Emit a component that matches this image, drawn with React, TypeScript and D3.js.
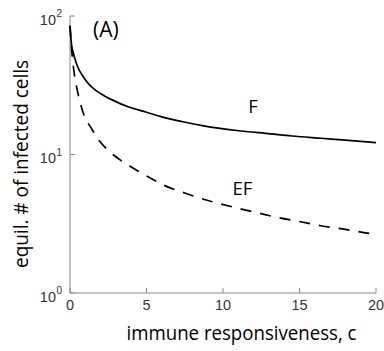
import React from "react";
import * as d3 from "d3";

const fC = [0, 0.1, 0.2, 0.35, 0.5, 0.79, 1.2, 1.66, 2.2, 2.75, 3.8, 5, 6.0, 7.3, 8.74, 10.9, 13.1, 14.5, 16.4, 18, 20];
const fV = [85, 62, 55, 48, 43, 37.5, 32.5, 29.2, 26.7, 24.8, 22.1, 20.2, 18.7, 17.3, 16.1, 14.9, 14.1, 13.6, 13.1, 12.7, 12.2];

const efC = [0, 0.1, 0.2, 0.3, 0.45, 0.7, 1.0, 1.33, 1.88, 2.42, 3.3, 3.95, 4.72, 5.37, 6.14, 7.54, 9.29, 10.7, 12.1, 13.5, 15.07, 16.4, 17.8, 19.3, 20];
const efV = [85, 58, 45, 37, 30, 23, 18.2, 15.9, 12.7, 10.9, 9.1, 8.2, 7.3, 6.65, 6.0, 5.25, 4.56, 4.16, 3.83, 3.52, 3.27, 3.06, 2.9, 2.72, 2.65];

const xTicks = [0, 5, 10, 15, 20];
const yTicks = [1, 10, 100];
const yTickExp = ["0", "1", "2"];

export default function App() {
  const x = d3.scaleLinear().domain([0, 20]).range([70, 376]);
  const y = d3.scaleLog().domain([1, 100]).range([293, 16]);
  const line = d3
    .line<[number, number]>()
    .x((d) => x(d[0]))
    .y((d) => y(d[1]))
    .curve(d3.curveMonotoneX);
  const fData = fC.map((c, i) => [c, fV[i]] as [number, number]);
  const efData = efC.map((c, i) => [c, efV[i]] as [number, number]);
  const axisCol = "#8a8a8a";
  const tickFont = "'Liberation Sans', Arial, sans-serif";
  const labFont = "'Open Sans', 'Noto Sans', sans-serif";
  return (
    <svg
      width={384}
      height={351}
      style={{ position: "absolute", left: 0, top: 0, background: "#fff" }}
    >
      <line x1={x(0)} x2={x(20)} y1={y(1)} y2={y(1)} stroke={axisCol} strokeWidth={1} />
      <line x1={x(0)} x2={x(0)} y1={y(1)} y2={y(100)} stroke={axisCol} strokeWidth={1} />
      {xTicks.map((t) => (
        <g key={"x" + t}>
          <line x1={x(t)} x2={x(t)} y1={y(1)} y2={y(1) - 5} stroke={axisCol} />
          <text x={x(t)} y={310} textAnchor="middle" fontFamily={tickFont} fontSize={14.5} fill="#333">
            {t}
          </text>
        </g>
      ))}
      {yTicks.map((t, i) => (
        <g key={"y" + t}>
          <line x1={x(0)} x2={x(0) + 5} y1={y(t)} y2={y(t)} stroke={axisCol} />
          <text x={56} y={y(t) + 8.5} textAnchor="end" fontFamily={tickFont} fontSize={14.5} fill="#333">
            10
          </text>
          <text x={56.5} y={y(t) + 1} textAnchor="start" fontFamily={tickFont} fontSize={10} fill="#333">
            {yTickExp[i]}
          </text>
        </g>
      ))}
      <path d={line(fData) || ""} fill="none" stroke="#000" strokeWidth={1.7} />
      <path d={line(efData) || ""} fill="none" stroke="#000" strokeWidth={1.7} strokeDasharray="11 9" />
      <text x={93} y={37} fontFamily={labFont} fontSize={21} fill="#000">(A)</text>
      <text x={253} y={113} textAnchor="middle" fontFamily={labFont} fontSize={18.5} fill="#000">F</text>
      <text x={242.5} y={195} textAnchor="middle" fontFamily={labFont} fontSize={18.5} fill="#000">EF</text>
      <text x={241.5} y={340} textAnchor="middle" fontFamily={labFont} fontSize={19.5} fill="#000" textLength={230} lengthAdjust="spacingAndGlyphs">
        immune responsiveness, c
      </text>
      <text
        transform="translate(27.5,164) rotate(-90)"
        textAnchor="middle"
        fontFamily={labFont}
        fontSize={19.5}
        fill="#000"
        textLength={208}
        lengthAdjust="spacingAndGlyphs"
      >
        equil. # of infected cells
      </text>
    </svg>
  );
}
